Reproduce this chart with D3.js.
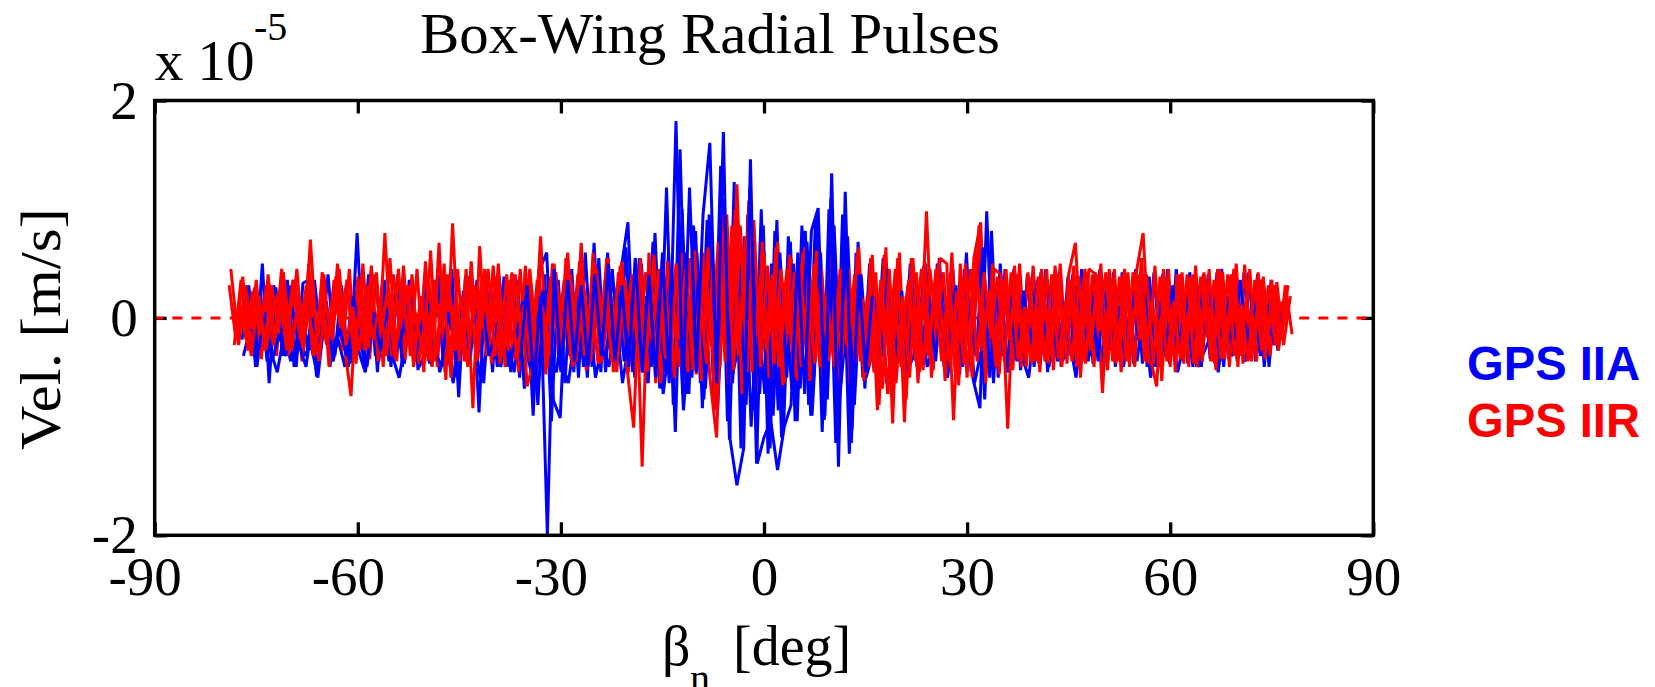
<!DOCTYPE html>
<html>
<head>
<meta charset="utf-8">
<script src="https://cdn.jsdelivr.net/npm/d3@7"></script>
<style>
    body { margin: 0; background: #fff; }
</style>
</head>
<body>
<div id="chart"></div>
<script>
// beta ticks and velocity ticks (x 1e-5 m/s)
const betaTicks = [-90, -60, -30, 0, 30, 60, 90];
const velTicks = [-2, 0, 2];

// each trace: start beta (deg), 1 deg step, values in 1e-7 m/s (hundredths of 1e-5)
const iirStarts = [-79, -78.25, -77.5, -78.75, -78.6];
const iiaStarts = [-77.1, -76.4, -75.65, -36, -76.9];

// GPS IIR (red)
const iir1 = [30,-20,38,-25,35,-30,20,-35,42,-18,
    45,-30,72,-28,40,-35,50,-25,-72,38,
    -30,48,-40,78,-35,45,-38,40,-42,52,
    -45,69,-57,87,-40,45,-83,66,-35,48,
    -42,40,-38,45,-63,-40,75,-45,50,-48,
    60,-42,69,-45,50,-40,55,-48,52,-50,
    55,-137,60,-60,55,-55,50,-60,55,-52,
    60,-55,-110,75,-60,123,-55,116,-65,60,
    -55,70,-60,55,-58,65,-50,60,-62,55,
    -50,60,-55,65,-52,58,-80,65,-97,60,
    -75,55,-50,98,-48,55,50,-94,50,-55,
    55,88,-50,45,40,-102,48,-45,42,-40,
    45,-42,48,-45,40,69,-40,45,40,-69,
    45,-42,40,-45,42,78,-35,-63,45,-45,
    40,-42,38,-45,42,-40,45,-38,40,-45,
    49,-40,42,-38,35,-30,30,-15];
const iir2 = [-25,35,-30,28,-38,40,-22,45,-35,30,
    -40,50,-32,42,-45,38,-30,45,-42,50,
    -38,42,-45,55,-40,48,-35,45,-50,62,
    -45,50,-55,45,-40,52,-38,45,-42,50,
    -45,42,-50,48,-40,45,-52,50,-44,55,
    -45,52,-48,60,-42,55,-50,48,-45,-101,
    55,-50,58,-60,52,-55,60,-50,62,-58,
    65,-85,95,-60,100,-70,108,-60,70,-55,
    65,-62,58,-55,60,-58,62,-55,58,-60,
    55,-62,60,-58,55,-85,58,-70,55,-96,
    55,-60,52,-55,50,-58,60,-62,50,-55,
    85,-60,50,-52,45,-48,50,-45,48,-50,
    45,-48,50,-42,48,-55,42,-45,50,-48,
    45,-50,42,-45,55,-42,48,-58,45,-50,
    42,-45,48,-40,45,-48,42,-45,50,-42,
    45,-40,38,-35,33,-25,20];
const iir3 = [10,-20,25,-15,30,-25,20,-30,35,-20,
    28,-35,12,-25,35,-8,25,-38,30,-28,
    35,-12,28,-38,32,-25,5,-30,35,-40,
    30,-35,18,-28,35,-40,30,-10,38,-30,
    35,-38,12,-40,35,-30,38,-15,35,-38,
    40,-35,15,-42,35,-40,42,-18,40,-45,
    42,-20,45,-38,10,-45,40,-48,22,-42,
    50,-45,95,-48,85,-50,90,-45,48,-42,
    45,-15,42,-45,20,-42,45,-40,12,-38,
    45,-42,18,-45,42,-65,45,-60,20,-55,
    42,-48,45,-10,42,-45,25,-42,45,-40,
    42,-18,38,-40,42,-38,10,-42,38,-40,
    40,-38,15,-40,38,-42,40,-12,42,-40,
    38,-40,42,-20,40,-42,38,-40,15,-38,
    40,-42,38,-18,35,-38,40,-35,12,-40,
    35,-30,30,-25,15];
const iir4 = [45,-15,20,-35,15,-25,30,-10,25,-30,
    20,-15,35,-40,15,-20,45,-25,10,-30,
    30,-20,15,-35,40,-10,25,-45,20,-30,
    35,-15,40,-25,20,-45,30,-10,45,-35,
    15,-30,40,-20,35,-45,10,-25,42,-30,
    20,-40,35,-15,45,-30,25,-50,30,-20,
    40,-35,20,-45,35,-25,50,-30,15,-40,
    45,-25,70,-40,85,-35,75,-50,30,-20,
    40,-45,25,-35,50,-20,35,-45,20,-30,
    45,-25,30,-40,20,-50,35,-70,25,-45,
    30,-20,45,-35,25,-40,20,-50,35,-25,
    60,-30,25,-45,35,-20,40,-30,15,-35,
    30,-25,40,-15,35,-45,20,-30,40,-20,
    25,-35,45,-20,30,-40,15,-30,35,-25,
    40,-20,30,-35,25,-40,45,-15,30,-35,
    20,-30,35,-25,30,-20,10];
const iir5 = [10,-25,30,-10,20,-30,5,25,-20,35,
    -15,30,-35,10,-25,20,-5,35,-30,15,
    -20,40,-10,25,-35,5,30,-25,15,-40,
    20,-10,35,-30,0,25,-20,40,-15,30,
    -35,10,25,-30,45,-20,5,-35,30,-10,
    40,-25,15,-40,30,-5,20,-30,35,-15,
    25,-45,10,30,-35,20,-20,45,-30,5,
    40,-25,60,-35,70,-20,55,-40,25,-30,
    35,-15,45,-40,20,-30,50,-25,10,-45,
    30,-20,40,-35,15,-50,25,-30,45,-10,
    35,-40,20,-25,45,-15,30,-35,10,-30,
    40,-20,25,-45,30,-10,35,-30,20,-40,
    15,-35,40,-20,30,-25,45,-15,20,-35,
    30,-40,25,-10,40,-30,15,-45,35,-20,
    25,-30,40,-15,20,-35,30,-25,45,-20,
    10,-30,35,-15,25,-20,30];

// GPS IIA (blue)
const iia1 = [-20,30,-45,50,-60,28,-35,30,-45,32,
    35,-54,30,-45,35,-20,-42,78,-45,40,
    -50,35,-45,40,-42,35,-48,38,-44,40,
    -50,45,-73,38,35,-87,40,-50,38,-45,
    40,-55,35,-90,45,60,-76,-92,42,-50,
    45,-55,69,-50,60,-48,45,88,-55,50,
    -60,78,-65,60,-105,100,-70,80,-83,95,
    -80,110,-112,90,-100,120,-134,85,-120,90,
    -100,70,-95,80,-90,95,-94,110,-103,90,
    -115,70,-65,55,-60,50,-55,45,-50,48,
    -45,50,-48,55,-50,45,-52,60,-57,-83,
    98,-60,50,-50,45,-48,40,-45,42,-50,
    40,-45,38,-42,45,-40,42,-48,38,-45,
    42,-40,45,-42,38,-45,40,-42,45,-40,
    42,-45,40,-38,42,-45,38,-40,42,-38,
    40,-45,35,-30,10];
const iia2 = [15,-35,25,-40,30,-20,35,-45,20,-30,
    35,-25,40,-35,30,-45,25,-30,40,-35,
    30,-40,25,-45,35,-30,20,-42,35,-38,
    30,-55,25,-40,35,-60,30,-45,38,-50,
    35,-65,30,-80,40,-95,35,-60,45,-55,
    60,-45,55,-50,45,-40,65,-50,55,-60,
    70,-65,120,-80,155,-70,85,-60,90,-75,
    140,-95,125,-120,95,-85,100,-125,80,-110,
    75,-95,85,-80,90,-105,100,-115,95,-125,
    60,-55,50,-45,55,-50,45,-48,50,-45,
    48,-42,50,-45,42,-48,45,-50,55,-75,
    80,-55,45,-42,40,-45,38,-42,45,-40,
    42,-38,40,-45,38,-42,45,-40,42,-38,
    40,-42,38,-45,42,-40,45,-38,40,-42,
    38,-45,40,-42,45,-38,40,-35,42,-40,
    35,-45,30,-20];
const iia3 = [-10,-30,5,-40,-15,-35,10,-25,-45,0,
    -30,15,-40,-10,-35,20,-25,-45,5,-30,
    10,-35,-20,15,-40,-10,20,-30,-45,5,
    -25,15,-40,-5,25,-35,-15,10,-45,-20,
    15,-40,-10,25,-30,-50,5,-35,20,-45,
    -10,25,-35,-20,30,-40,5,-30,20,-45,
    30,-50,45,-35,60,-55,40,-65,55,-40,
    75,-60,50,-80,65,-70,45,-90,60,-55,
    50,-65,70,-55,60,-75,85,-60,75,-80,
    40,-45,30,-35,45,-40,25,-50,35,-30,
    20,-40,35,-25,30,-45,15,-35,65,-55,
    30,-35,20,-40,25,-30,35,-20,30,-40,
    15,-35,30,-25,20,-40,35,-30,10,-35,
    25,-20,30,-40,15,-35,30,-25,20,-45,
    30,-15,25,-40,20,-30,35,-25,15,-35,
    20,-25,5];
const iia4 = [-40,30,-60,20,-200,45,-50,35,-40,30,
    -45,40,-35,50,-40,30,-45,55,-50,40,
    -55,60,-60,181,-70,120,-50,95,161,-60,
    171,-112,-154,-120,146,-134,-110,-95,-140,-100,
    -80,60,-70,80,101,-90,133,-137,116,-103,
    40,-50,20];
const iia5 = [-35,-10,-45,5,-30,-50,-15,-40,10,-35,
    -25,-55,0,-40,-20,-45,15,-30,-50,-5,
    -40,10,-35,-55,-20,5,-45,-30,-10,-50,
    -25,-60,5,-40,-15,-55,-30,10,-45,-20,
    -50,0,-35,-65,-10,-45,20,-40,-60,-15,
    -30,15,-55,-25,-45,5,-60,-20,10,-50,
    -40,30,-70,-20,50,-85,-10,60,-75,20,
    -90,40,-60,-30,75,-100,10,-70,50,-85,
    30,-65,-20,80,-90,25,-55,70,-80,-10,
    -45,20,-55,-30,10,-60,-20,15,-50,-35,
    5,-45,-25,20,-55,-10,-40,15,-60,-30,
    10,-45,-20,-50,5,-35,-55,0,-30,-45,
    15,-40,-20,-55,5,-35,-10,-50,20,-30,
    -45,-5,-40,10,-55,-25,-35,0,-50,-20,
    10,-45,-30,-15,-50,5,-35,-25,-40,0,
    -30,-20,-10,5];

const W = 1655, H = 687;
const pLeft = 154.7, pRight = 1373.3, pTop = 100.5, pBottom = 535.3;
const serif = '"Liberation Serif", "Times New Roman", Times, serif';
const sans = '"Liberation Sans", Arial, Helvetica, sans-serif';

const xScale = d3.scaleLinear().domain([-90, 90]).range([pLeft, pRight]);
const yScale = d3.scaleLinear().domain([-2, 2]).range([pBottom, pTop]);

const svg = d3.select('#chart').append('svg')
    .attr('width', W).attr('height', H)
    .style('display', 'block');
svg.append('rect').attr('width', W).attr('height', H).attr('fill', '#fff');

svg.append('clipPath').attr('id', 'plotClip')
    .append('rect')
    .attr('x', pLeft).attr('y', pTop)
    .attr('width', pRight - pLeft).attr('height', pBottom - pTop);

//坐标轴: ticks point inward
let styleAxis = function (g) {
    g.select('.domain').remove();
    g.selectAll('.tick line').attr('stroke', '#000').attr('stroke-width', 3.3);
    g.selectAll('.tick text')
        .attr('fill', '#000')
        .style('font-family', serif)
        .style('font-size', '55px');
};

svg.append('g').attr('transform', 'translate(0,' + pBottom + ')')
    .call(d3.axisBottom(xScale).tickValues(betaTicks).tickSize(-13).tickPadding(21)
        .tickFormat(d => String(d)))
    .call(styleAxis)
    .selectAll('.tick text').attr('dx', d => d < 0 ? -10 : 0);
svg.append('g').attr('transform', 'translate(0,' + pTop + ')')
    .call(d3.axisTop(xScale).tickValues(betaTicks).tickSize(-13).tickFormat(''))
    .call(styleAxis);
svg.append('g').attr('transform', 'translate(' + pLeft + ',0)')
    .call(d3.axisLeft(yScale).tickValues(velTicks).tickSize(-12).tickPadding(17)
        .tickFormat(d => String(d)))
    .call(styleAxis);
svg.append('g').attr('transform', 'translate(' + pRight + ',0)')
    .call(d3.axisRight(yScale).tickValues(velTicks).tickSize(-12).tickFormat(''))
    .call(styleAxis);

//零线 (dashed, under the traces)
svg.append('line')
    .attr('x1', xScale(-90) - 1.5).attr('x2', xScale(90))
    .attr('y1', yScale(0)).attr('y2', yScale(0))
    .attr('stroke', '#ff0000').attr('stroke-width', 3)
    .attr('stroke-dasharray', '10,9.1');

//traces
let plot = svg.append('g').attr('clip-path', 'url(#plotClip)');
let drawTrace = function (values, start, color) {
    let line = d3.line()
        .x((d, i) => xScale(start + i))
        .y(d => yScale(d / 100));
    plot.append('path')
        .attr('d', line(values))
        .attr('fill', 'none')
        .attr('stroke', color)
        .attr('stroke-width', 3)
        .attr('stroke-linejoin', 'bevel');
};
const blue = '#0000ff', red = '#ff0000';
drawTrace(iia1, iiaStarts[0], blue);
drawTrace(iia2, iiaStarts[1], blue);
drawTrace(iia5, iiaStarts[4], blue);
drawTrace(iir1, iirStarts[0], red);
drawTrace(iir2, iirStarts[1], red);
drawTrace(iia3, iiaStarts[2], blue);
drawTrace(iir3, iirStarts[2], red);
drawTrace(iir5, iirStarts[4], red);
drawTrace(iir4, iirStarts[3], red);
drawTrace(iia4, iiaStarts[3], blue);

//外框
svg.append('rect')
    .attr('x', pLeft).attr('y', pTop)
    .attr('width', pRight - pLeft).attr('height', pBottom - pTop)
    .attr('fill', 'none').attr('stroke', '#000').attr('stroke-width', 3.5);

// exponent label
svg.append('text').attr('x', pLeft).attr('y', 80)
    .style('font-family', serif).style('font-size', '57px').attr('fill', '#000')
    .text('x 10');
svg.append('text').attr('x', 254).attr('y', 40)
    .style('font-family', serif).style('font-size', '40px').attr('fill', '#000')
    .text('-5');

// title
svg.append('text').attr('x', 420).attr('y', 53)
    .attr('textLength', 580).attr('lengthAdjust', 'spacingAndGlyphs')
    .style('font-family', serif).style('font-size', '57px').attr('fill', '#000')
    .text('Box-Wing Radial Pulses');

// y label
svg.append('text')
    .attr('transform', 'translate(60,329) rotate(-90)')
    .attr('text-anchor', 'middle')
    .attr('textLength', 242).attr('lengthAdjust', 'spacingAndGlyphs')
    .style('font-family', serif).style('font-size', '57px').attr('fill', '#000')
    .text('Vel. [m/s]');

// x label
let xl = svg.append('g').style('font-family', serif).attr('fill', '#000');
xl.append('text').attr('x', 662).attr('y', 665).style('font-size', '56px').text('β');
xl.append('text').attr('x', 690).attr('y', 692).style('font-size', '40px').text('n');
xl.append('text').attr('x', 733).attr('y', 665).style('font-size', '56px').text('[deg]');

// legend
svg.append('text').attr('x', 1467).attr('y', 380)
    .attr('textLength', 173).attr('lengthAdjust', 'spacingAndGlyphs')
    .style('font-family', sans).style('font-weight', 'bold').style('font-size', '48px')
    .attr('fill', blue).text('GPS IIA');
svg.append('text').attr('x', 1467).attr('y', 437)
    .attr('textLength', 173).attr('lengthAdjust', 'spacingAndGlyphs')
    .style('font-family', sans).style('font-weight', 'bold').style('font-size', '48px')
    .attr('fill', red).text('GPS IIR');
</script>
</body>
</html>
